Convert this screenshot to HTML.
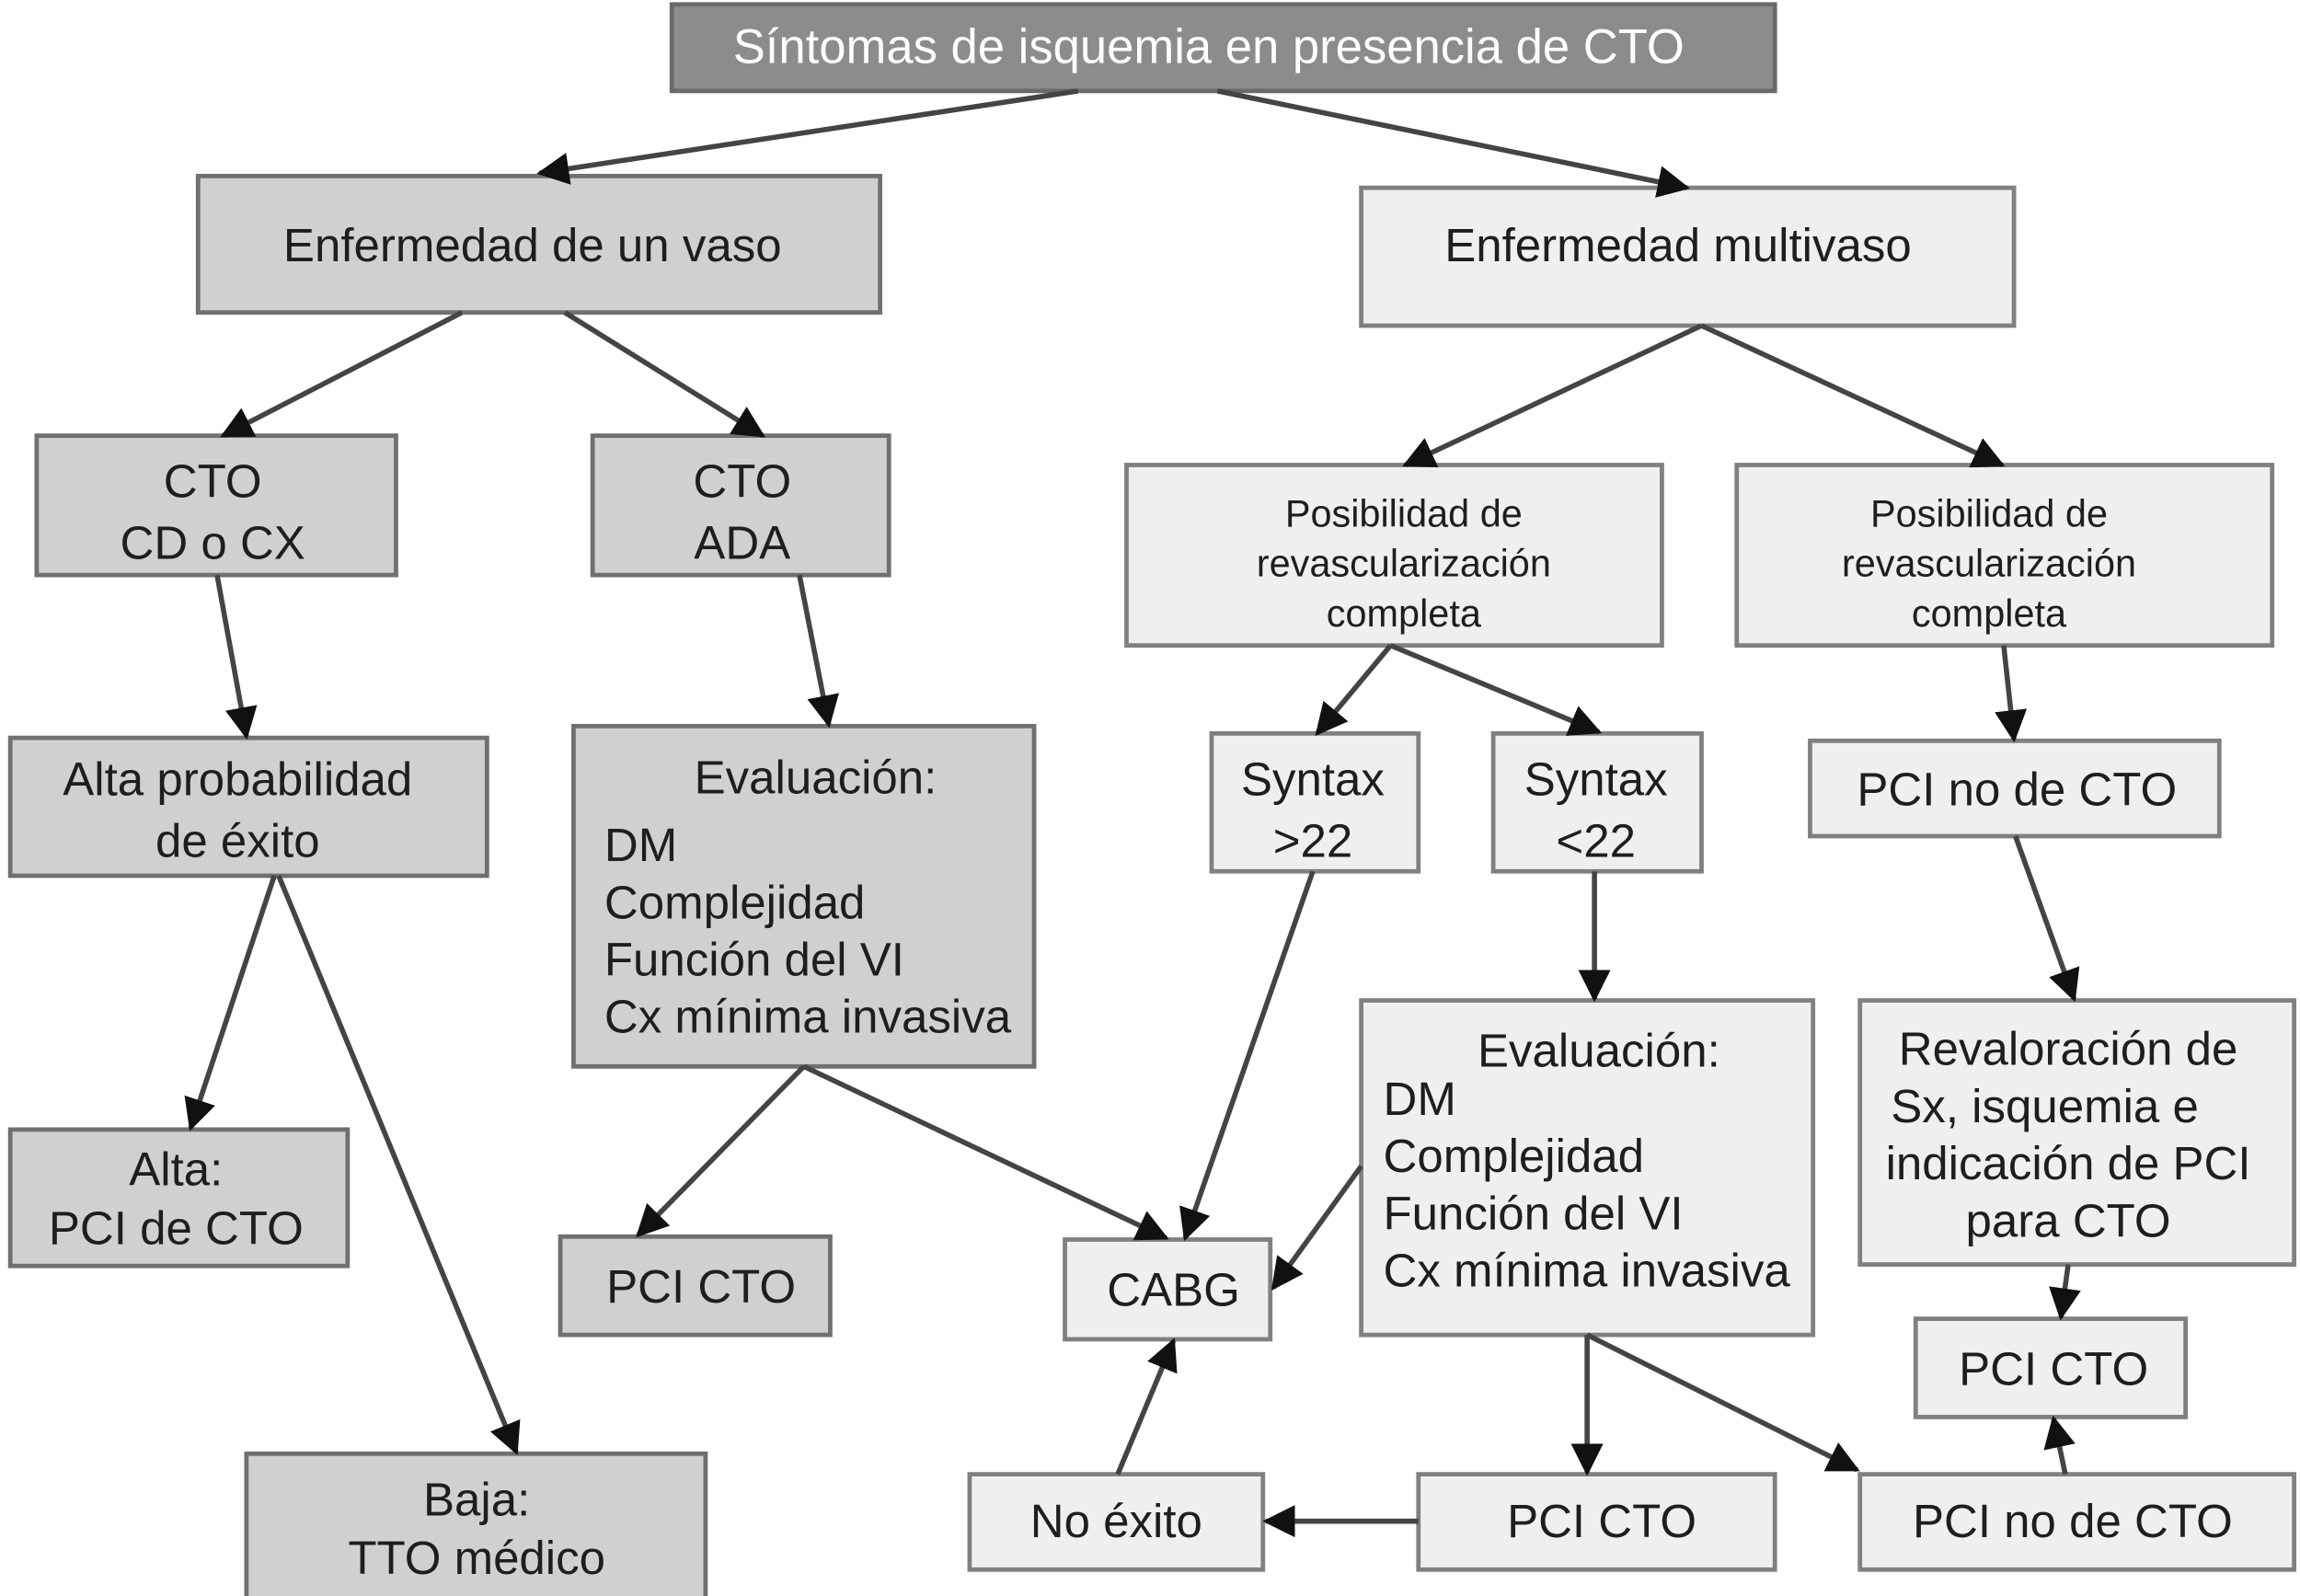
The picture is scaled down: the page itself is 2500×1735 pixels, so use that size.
<!DOCTYPE html>
<html><head><meta charset="utf-8"><style>
html,body{margin:0;padding:0;background:#fff;}
svg{display:block}
text{font-family:"Liberation Sans",sans-serif;fill:#1e1e1e;}
</style></head><body>
<svg width="2500" height="1735" viewBox="0 0 1568 1088" preserveAspectRatio="none" xmlns="http://www.w3.org/2000/svg">
<defs>
<marker id="a" viewBox="0 0 10 10" refX="10" refY="5" markerWidth="7" markerHeight="7" markerUnits="userSpaceOnUse" orient="auto">
</marker>
<marker id="h" viewBox="0 0 10 10" refX="9" refY="5" markerWidth="22" markerHeight="22" markerUnits="userSpaceOnUse" orient="auto"><path d="M0,0 L10,5 L0,10 z" fill="#111"/></marker>
</defs>
<g stroke-width="3">
<!-- boxes -->
<rect x="458" y="3" width="752" height="59" fill="#8c8c8c" stroke="#6a6a6a"/>
<rect x="135" y="120" width="465" height="93" fill="#d0d0d0" stroke="#707070"/>
<rect x="928" y="128" width="445" height="94" fill="#efefef" stroke="#808080"/>
<rect x="25" y="297" width="245" height="95" fill="#d0d0d0" stroke="#707070"/>
<rect x="404" y="297" width="202" height="95" fill="#d0d0d0" stroke="#707070"/>
<rect x="768" y="317" width="365" height="123" fill="#efefef" stroke="#808080"/>
<rect x="1184" y="317" width="365" height="123" fill="#efefef" stroke="#808080"/>
<rect x="7" y="503" width="325" height="94" fill="#d0d0d0" stroke="#707070"/>
<rect x="391" y="495" width="314" height="232" fill="#d0d0d0" stroke="#707070"/>
<rect x="826" y="500" width="141" height="94" fill="#efefef" stroke="#808080"/>
<rect x="1018" y="500" width="142" height="94" fill="#efefef" stroke="#808080"/>
<rect x="1234" y="505" width="279" height="65" fill="#efefef" stroke="#808080"/>
<rect x="928" y="682" width="308" height="228" fill="#efefef" stroke="#808080"/>
<rect x="1268" y="682" width="296" height="180" fill="#efefef" stroke="#808080"/>
<rect x="7" y="770" width="230" height="93" fill="#d0d0d0" stroke="#707070"/>
<rect x="382" y="843" width="184" height="67" fill="#d0d0d0" stroke="#707070"/>
<rect x="726" y="845" width="140" height="68" fill="#efefef" stroke="#808080"/>
<rect x="1306" y="899" width="184" height="67" fill="#efefef" stroke="#808080"/>
<rect x="168" y="991" width="313" height="100" fill="#d0d0d0" stroke="#707070"/>
<rect x="661" y="1005" width="200" height="65" fill="#efefef" stroke="#808080"/>
<rect x="967" y="1005" width="243" height="65" fill="#efefef" stroke="#808080"/>
<rect x="1268" y="1005" width="296" height="65" fill="#efefef" stroke="#808080"/>
</g>
<g stroke="#444" stroke-width="3.5" marker-end="url(#h)" fill="none">
<line x1="735" y1="62" x2="368" y2="118"/>
<line x1="830" y1="62" x2="1150" y2="128"/>
<line x1="315" y1="213" x2="152" y2="297"/>
<line x1="385" y1="213" x2="520" y2="297"/>
<line x1="1160" y1="222" x2="958" y2="317"/>
<line x1="1160" y1="222" x2="1365" y2="317"/>
<line x1="148" y1="392" x2="168" y2="502"/>
<line x1="545" y1="392" x2="565" y2="494"/>
<line x1="948" y1="440" x2="898" y2="500"/>
<line x1="948" y1="440" x2="1090" y2="499"/>
<line x1="1366" y1="440" x2="1373" y2="504"/>
<line x1="1087" y1="594" x2="1087" y2="681"/>
<line x1="1374" y1="570" x2="1414" y2="681"/>
<line x1="187" y1="597" x2="130" y2="769"/>
<line x1="190" y1="597" x2="352" y2="990"/>
<line x1="548" y1="727" x2="435" y2="842"/>
<line x1="548" y1="727" x2="795" y2="844"/>
<line x1="895" y1="594" x2="808" y2="844"/>
<line x1="928" y1="795" x2="868" y2="878"/>
<line x1="1082" y1="910" x2="1082" y2="1004"/>
<line x1="1082" y1="910" x2="1266" y2="1002"/>
<line x1="967" y1="1037" x2="863" y2="1037"/>
<line x1="762" y1="1005" x2="800" y2="914"/>
<line x1="1410" y1="862" x2="1405" y2="898"/>
<line x1="1408" y1="1005" x2="1400" y2="967"/>
</g>
<g font-size="32" text-anchor="middle">
<text x="824" y="43" style="fill:#fff" font-size="33">Síntomas de isquemia en presencia de CTO</text>
<text x="363" y="178">Enfermedad de un vaso</text>
<text x="1144" y="178">Enfermedad multivaso</text>
<text x="145" y="339">CTO</text><text x="145" y="381">CD o CX</text>
<text x="506" y="339">CTO</text><text x="506" y="381">ADA</text>
<text x="162" y="542">Alta probabilidad</text><text x="162" y="584">de éxito</text>
<text x="556" y="541">Evaluación:</text>
<text x="895" y="542">Syntax</text><text x="895" y="584">&gt;22</text>
<text x="1088" y="542">Syntax</text><text x="1088" y="584">&lt;22</text>
<text x="1375" y="549">PCI no de CTO</text>
<text x="1090" y="727">Evaluación:</text>
<text x="1410" y="726">Revaloración de</text>
<text x="1394" y="765">Sx, isquemia e</text>
<text x="1410" y="804">indicación de PCI</text>
<text x="1410" y="843">para CTO</text>
<text x="120" y="808">Alta:</text><text x="120" y="848">PCI de CTO</text>
<text x="478" y="888">PCI CTO</text>
<text x="800" y="890">CABG</text>
<text x="1400" y="944">PCI CTO</text>
<text x="325" y="1033">Baja:</text><text x="325" y="1073">TTO médico</text>
<text x="761" y="1048">No éxito</text>
<text x="1092" y="1048">PCI CTO</text>
<text x="1413" y="1048">PCI no de CTO</text>
</g>
<g font-size="32">
<text x="412" y="587">DM</text><text x="412" y="626">Complejidad</text><text x="412" y="665">Función del VI</text><text x="412" y="704">Cx mínima invasiva</text>
<text x="943" y="760">DM</text><text x="943" y="799">Complejidad</text><text x="943" y="838">Función del VI</text><text x="943" y="877">Cx mínima invasiva</text>
</g>
<g font-size="26" text-anchor="middle">
<text x="957" y="359">Posibilidad de</text><text x="957" y="393">revascularización</text><text x="957" y="427">completa</text>
<text x="1356" y="359">Posibilidad de</text><text x="1356" y="393">revascularización</text><text x="1356" y="427">completa</text>
</g>
</svg>
</body></html>
